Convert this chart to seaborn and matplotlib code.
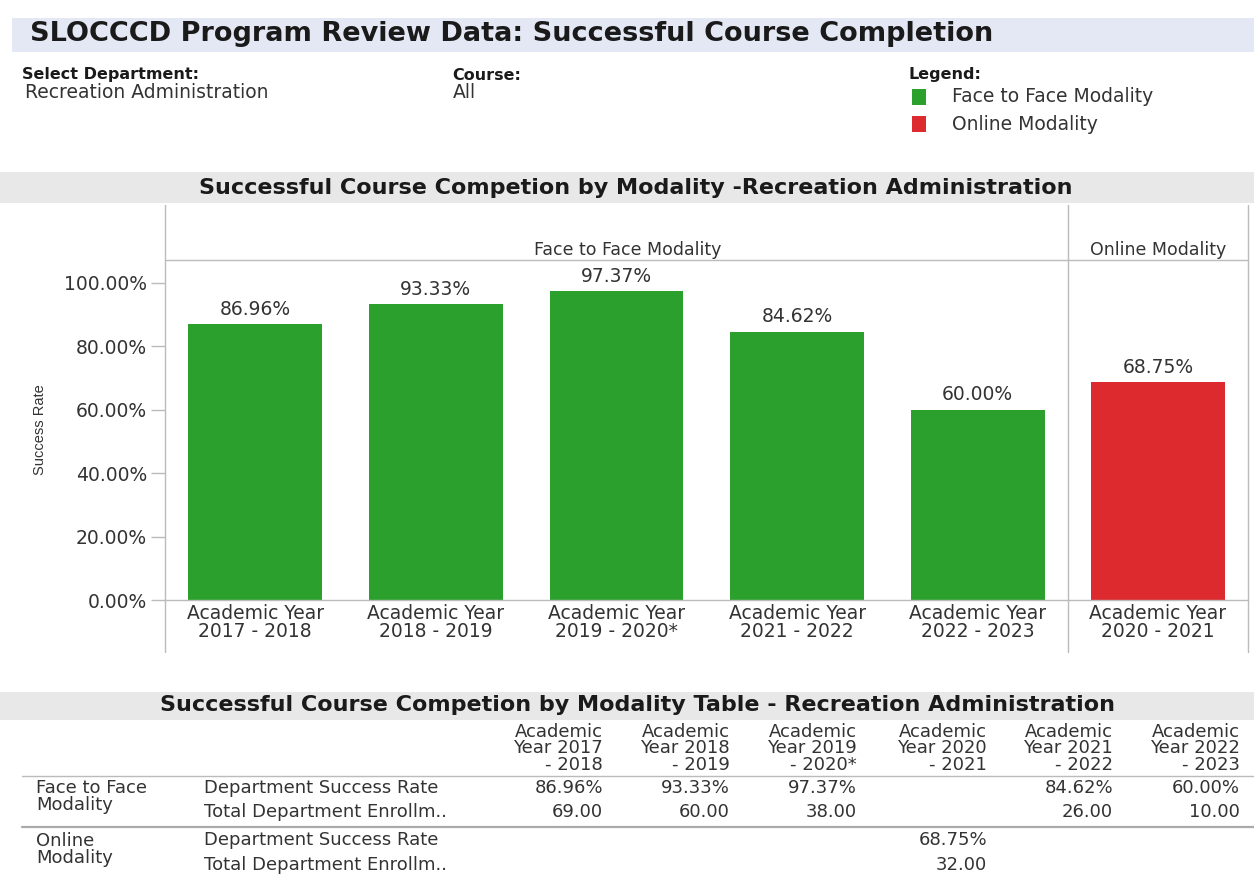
import matplotlib
matplotlib.use("Agg")
import matplotlib.pyplot as plt
import seaborn as sns
import pandas as pd
from matplotlib.lines import Line2D
from matplotlib.patches import Rectangle

# ---------------- data ----------------
years = ["2017 - 2018", "2018 - 2019", "2019 - 2020*", "2020 - 2021", "2021 - 2022", "2022 - 2023"]
f2f_rate = [86.96, 93.33, 97.37, None, 84.62, 60.00]
f2f_enroll = [69.00, 60.00, 38.00, None, 26.00, 10.00]
online_rate = [None, None, None, 68.75, None, None]
online_enroll = [None, None, None, 32.00, None, None]
y_ticks = [0, 20, 40, 60, 80, 100]
modalities = ["Face to Face Modality", "Online Modality"]
colors = {"Face to Face Modality": "#2CA02C", "Online Modality": "#DD2A2E"}

W, H = 1254, 877
sns.set_theme(style="white")
plt.rcParams["font.family"] = ["DejaVu Sans"]
TXT = "#333333"

fig = plt.figure(figsize=(W / 100, H / 100), dpi=100)
fig.patch.set_facecolor("white")


def fx(x):
    return x / W


def fy(y):
    return 1 - y / H


def hline(x0, x1, y, color="#BBBBBB", lw=1.0):
    fig.add_artist(Line2D([fx(x0), fx(x1)], [fy(y), fy(y)], color=color, lw=lw, transform=fig.transFigure))


def vline(x, y0, y1, color="#BBBBBB", lw=1.0):
    fig.add_artist(Line2D([fx(x), fx(x)], [fy(y0), fy(y1)], color=color, lw=lw, transform=fig.transFigure))


def band(x0, y0, x1, y1, color):
    fig.add_artist(Rectangle((fx(x0), fy(y1)), fx(x1) - fx(x0), fy(y0) - fy(y1),
                             transform=fig.transFigure, facecolor=color, edgecolor="none", zorder=0))


# ---------------- header ----------------
band(12, 18, 1254, 52, "#E4E8F5")
fig.text(fx(30), fy(34), "SLOCCCD Program Review Data: Successful Course Completion",
         fontsize=19.5, fontweight="bold", color="#1A1A1A", va="center", ha="left")

HFS = 13.5
fig.text(fx(22), fy(75), "Select Department:", fontsize=11.5, fontweight="bold", color="#1A1A1A", va="center")
fig.text(fx(25), fy(92), "Recreation Administration", fontsize=HFS, color=TXT, va="center")
fig.text(fx(452), fy(75), "Course:", fontsize=11.5, fontweight="bold", color="#1A1A1A", va="center")
fig.text(fx(453), fy(92), "All", fontsize=HFS, color=TXT, va="center")
fig.text(fx(908), fy(75), "Legend:", fontsize=11.5, fontweight="bold", color="#1A1A1A", va="center")
for i, m in enumerate(modalities):
    yc = 97 + i * 27
    fig.add_artist(Rectangle((fx(912), fy(yc + 8)), fx(926) - fx(912), fy(yc - 8) - fy(yc + 8),
                             transform=fig.transFigure, facecolor=colors[m], edgecolor="none"))
    fig.text(fx(952), fy(yc), m, fontsize=HFS, color=TXT, va="center")

# ---------------- chart ----------------
band(0, 172, 1254, 203, "#E8E8E8")
fig.text(fx(636), fy(188), "Successful Course Competion by Modality -Recreation Administration",
         fontsize=16, fontweight="bold", color="#1A1A1A", ha="center", va="center")

f2f_df = pd.DataFrame({
    "Year": ["Academic Year\n" + y for y, v in zip(years, f2f_rate) if v is not None],
    "Rate": [v for v in f2f_rate if v is not None],
})
onl_df = pd.DataFrame({
    "Year": ["Academic Year\n" + y for y, v in zip(years, online_rate) if v is not None],
    "Rate": [v for v in online_rate if v is not None],
})

top_px, base_px, y100_px = 260, 600, 283
ytop = (base_px - top_px) / (base_px - y100_px) * 100

ax1 = fig.add_axes([fx(165), fy(base_px), fx(1068) - fx(165), fy(top_px) - fy(base_px)])
ax2 = fig.add_axes([fx(1068), fy(base_px), fx(1248) - fx(1068), fy(top_px) - fy(base_px)], sharey=ax1)

for ax, df, m in [(ax1, f2f_df, modalities[0]), (ax2, onl_df, modalities[1])]:
    sns.barplot(data=df, x="Year", y="Rate", ax=ax, color=colors[m], width=0.74,
                saturation=1, edgecolor="none")
    ax.set_xlim(-0.5, len(df) - 0.5)
    ax.set_ylim(0, ytop)
    ax.set_xlabel("")
    ax.set_ylabel("")
    ax.set_facecolor("none")
    for s in ["top", "right", "left"]:
        ax.spines[s].set_visible(False)
    ax.spines["bottom"].set_color("#BBBBBB")
    ax.spines["bottom"].set_linewidth(1.0)
    ax.tick_params(axis="x", length=0, pad=3, labelsize=13.5, labelcolor=TXT)
    for t in ax.get_xticklabels():
        t.set_linespacing(0.95)
    for c in ax.containers:
        ax.bar_label(c, labels=[f"{v:.2f}%" for v in df["Rate"]], padding=4,
                     fontsize=13.5, color=TXT)

ax1.set_yticks(y_ticks)
ax1.set_yticklabels([f"{t:.2f}%" for t in y_ticks])
ax1.tick_params(axis="y", length=10, width=1, color="#BBBBBB", pad=3, labelsize=13.5, labelcolor=TXT, left=True)
ax2.tick_params(axis="y", left=False, labelleft=False)

fig.text(fx(40), fy(430), "Success Rate", rotation=90, fontsize=10.5, color=TXT, ha="center", va="center",
         family=["Liberation Sans Narrow", "Liberation Sans", "DejaVu Sans"])

# facet frame
for x in [165, 1068, 1248]:
    vline(x, 205, 652)
hline(165, 1248, 260)
fig.text(fx(628), fy(250), modalities[0], fontsize=12.5, color=TXT, ha="center", va="center")
fig.text(fx(1158), fy(250), modalities[1], fontsize=12.5, color=TXT, ha="center", va="center")

# ---------------- table ----------------
band(0, 692, 1254, 720, "#E8E8E8")
fig.text(fx(638), fy(705), "Successful Course Competion by Modality Table - Recreation Administration",
         fontsize=16, fontweight="bold", color="#1A1A1A", ha="center", va="center")

col_right = [603, 730, 857, 987, 1113, 1240]
TFS = 13
for xr, y in zip(col_right, years):
    a, b = y.split(" - ")
    for line, yy in zip(["Academic", "Year " + a, "- " + b], [732, 748, 765]):
        fig.text(fx(xr), fy(yy), line, fontsize=TFS, color=TXT, ha="right", va="center")

hline(22, 1254, 776)
hline(22, 1254, 827, color="#AAAAAA", lw=1.6)

row_groups = [
    ("Face to Face\nModality", 787, [("Department Success Rate", f2f_rate, "{:.2f}%", 788),
                                      ("Total Department Enrollm..", f2f_enroll, "{:.2f}", 812)]),
    ("Online\nModality", 840, [("Department Success Rate", online_rate, "{:.2f}%", 840),
                                ("Total Department Enrollm..", online_enroll, "{:.2f}", 865)]),
]
for grp, gy, rows in row_groups:
    fig.text(fx(36), fy(gy - 8), grp, fontsize=TFS, color=TXT, ha="left", va="top", linespacing=0.95)
    for label, vals, fmt, ry in rows:
        fig.text(fx(204), fy(ry), label, fontsize=TFS, color=TXT, ha="left", va="center")
        for xr, v in zip(col_right, vals):
            if v is not None:
                fig.text(fx(xr), fy(ry), fmt.format(v), fontsize=TFS, color=TXT, ha="right", va="center")

fig.savefig("out.png", dpi=100, facecolor="white")
